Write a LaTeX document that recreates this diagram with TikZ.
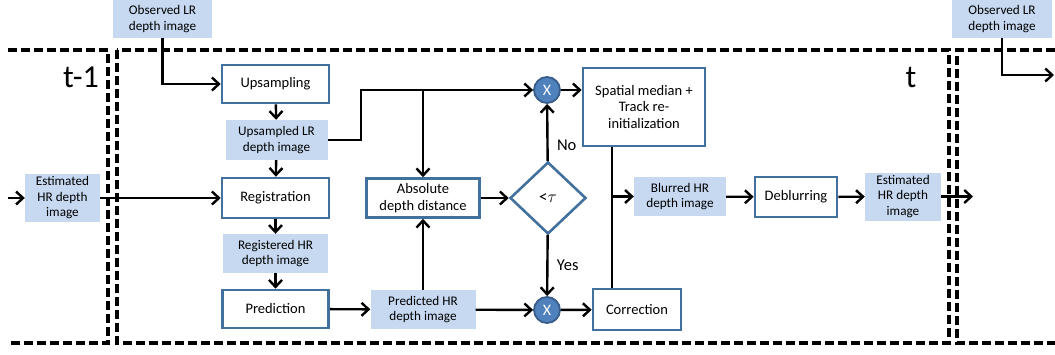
\documentclass[tikz,border=0pt]{standalone}
\usepackage{fontspec}
\setmainfont{Carlito}
\usetikzlibrary{shapes.geometric,arrows.meta}
\definecolor{boxblue}{HTML}{41719C}
\definecolor{lblue}{HTML}{C6D9F1}
\definecolor{cblue}{HTML}{4F81BD}
\definecolor{cedge}{HTML}{385D8A}
\begin{document}
\begin{tikzpicture}[x=1pt,y=-1pt,
  proc/.style={draw=boxblue,line width=2.6pt,fill=white,inner sep=0pt,align=center,font=\fontsize{14.5}{16.5}\selectfont},
  lab/.style={fill=lblue,inner sep=0pt,align=center,font=\fontsize{13.2}{15.5}\selectfont},
  mult/.style={circle,draw=cedge,line width=1.8pt,fill=cblue,text=white,inner sep=0pt,minimum size=26pt,font=\fontsize{16}{18}\selectfont},
  arr/.style={-{Straight Barb[length=7pt,width=13pt,line width=2.4pt]},line width=2.4pt},
  frame/.style={line width=3.2pt,dash pattern=on 9pt off 4pt},
  big/.style={font=\fontsize{32}{34}\selectfont}]
\useasboundingbox (0,0) rectangle (1055,354);
% frames
\draw[frame] (8,50) -- (108,50) -- (108,343) -- (8,343);
\draw[frame] (117,50) rectangle (949,343);
\draw[frame] (1055,50) -- (957,50) -- (957,343) -- (1055,343);
\node[big] (tm1) at (81,77) {t-1};
\node[big] (tt) at (911,77) {t};
% nodes
\node[lab,minimum width=99pt,minimum height=38pt] (obsL) at (162.5,19) {Observed LR\\depth image};
\node[lab,minimum width=100pt,minimum height=38pt] (obsR) at (1002,19) {Observed LR\\depth image};
\node[proc,minimum width=107pt,minimum height=38pt] (ups) at (275.5,84) {Upsampling};
\node[lab,minimum width=102pt,minimum height=40pt] (upsd) at (276.5,140) {Upsampled LR\\depth image};
\node[proc,minimum width=107pt,minimum height=40pt] (reg) at (275.5,198) {Registration};
\node[lab,minimum width=105pt,minimum height=39pt] (regd) at (275.5,253.5) {Registered HR\\depth image};
\node[proc,minimum width=106pt,minimum height=38pt] (pred) at (275.5,309) {Prediction};
\node[lab,minimum width=75pt,minimum height=48pt] (estL) at (62.5,198) {Estimated\\HR depth\\image};
\node[proc,minimum width=113pt,minimum height=39pt] (abs) at (423,198) {Absolute\\depth distance};
\node[diamond,draw=boxblue,line width=2.6pt,fill=white,inner sep=0pt,minimum width=76pt,minimum height=72pt,font=\fontsize{17}{19}\selectfont] (dia) at (548,198) {<$\tau$};
\node[mult] (cx1) at (547,90) {X};
\node[mult] (cx2) at (547,310) {X};
\node[proc,minimum width=122pt,minimum height=78pt] (sm) at (644,107) {Spatial median +\\Track re-\\initialization};
\node[proc,minimum width=88pt,minimum height=41pt] (corr) at (637,309.5) {Correction};
\node[lab,minimum width=105pt,minimum height=39pt] (pdd) at (423,309.5) {Predicted HR\\depth image};
\node[lab,minimum width=92pt,minimum height=39pt] (blur) at (680,196.5) {Blurred HR\\depth image};
\node[proc,minimum width=82pt,minimum height=40pt] (deb) at (796,197) {Deblurring};
\node[lab,minimum width=76pt,minimum height=48pt] (estR) at (903,196.5) {Estimated\\HR depth\\image};
% coordinates
\coordinate (inL) at (8,198);
\coordinate (bend1) at (361,90);
\coordinate (vx) at (612,0);
\coordinate (outR) at (973,196.5);
\coordinate (outR2) at (1054,75);
% connectors
\draw[arr] (obsL.south) |- (ups.west);
\draw[arr] (ups) -- (upsd);
\draw[arr] (upsd) -- (reg);
\draw[arr] (reg) -- (regd);
\draw[arr] (regd) -- (pred);
\draw[arr] (inL) -- (estL);
\draw[arr] (estL) -- (reg);
\draw[arr] (upsd.east) -| (bend1) -- (cx1);
\draw[arr] (abs.north |- cx1) -- (abs.north);
\draw[arr] (pred) -- (pdd);
\draw[arr] (pdd) -- (cx2);
\draw[arr] (pdd) -- (abs);
\draw[arr] (abs) -- (dia);
\draw[arr] (dia) -- node[pos=0.28,right=5pt,font=\fontsize{16.5}{18}\selectfont] (no) {No} (cx1);
\draw[arr] (dia) -- node[pos=0.5,right=5pt,font=\fontsize{16.5}{18}\selectfont] (yes) {Yes} (cx2);
\draw[arr] (cx1) -- (cx1 -| sm.west);
\draw[arr] (cx2) -- (corr);
\draw[line width=2.4pt] (sm.south -| vx) -- (corr.north -| vx);
\draw[arr] (vx |- blur) -- (blur);
\draw[arr] (blur) -- (deb);
\draw[arr] (deb) -- (estR);
\draw[arr] (estR) -- (outR);
\draw[arr] (obsR.south) |- (outR2);
\end{tikzpicture}
\end{document}
